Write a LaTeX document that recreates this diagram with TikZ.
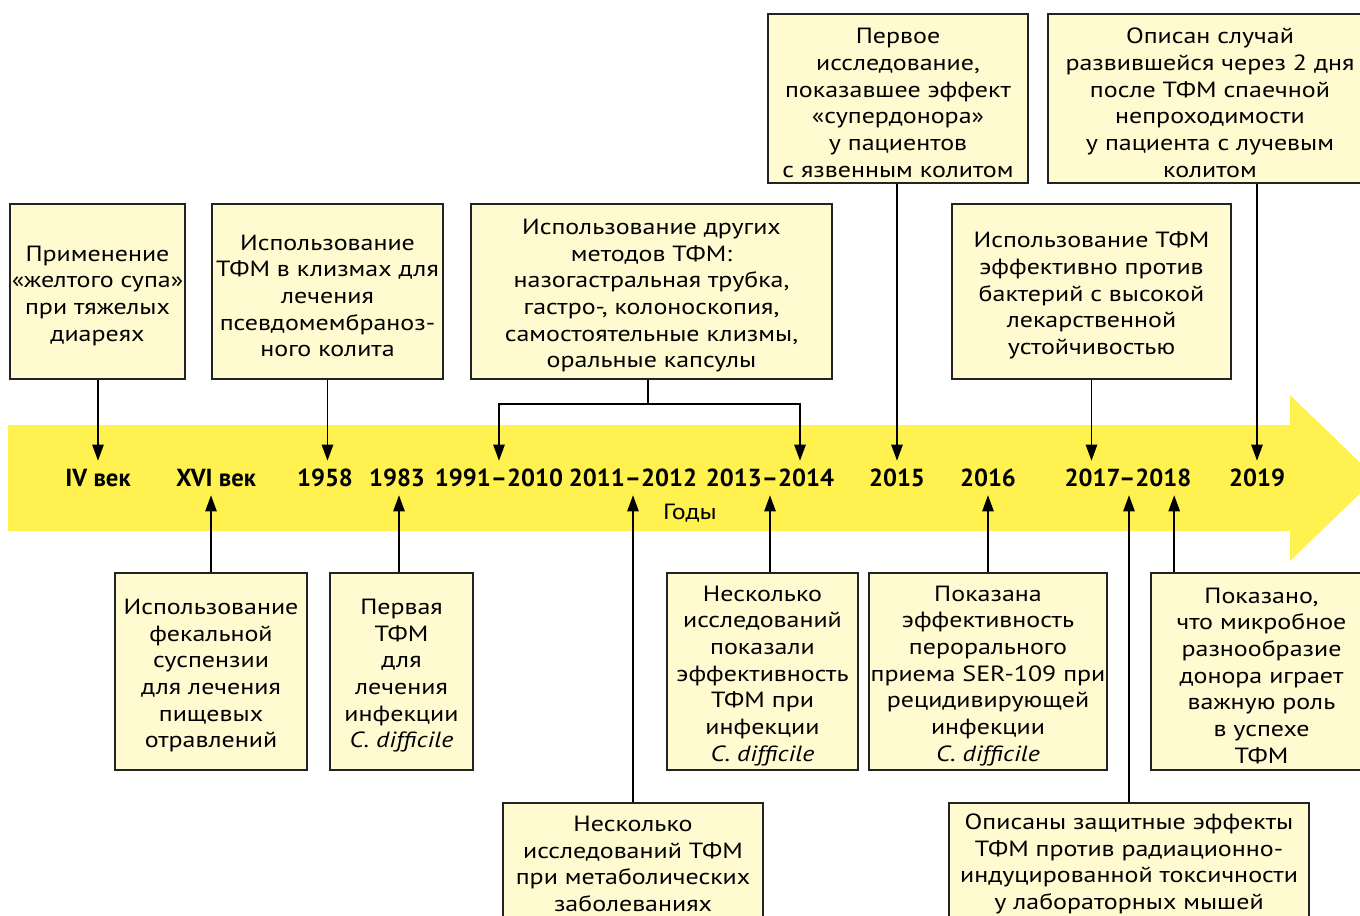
\documentclass[tikz,border=0pt]{standalone}
\usepackage{fontspec}
\setmainfont{PT Sans}[FakeStretch=1.18]
\newfontfamily\yrfont{PT Sans}
\usetikzlibrary{arrows.meta}
\definecolor{band}{RGB}{255,242,80}
\definecolor{boxfill}{RGB}{255,250,208}
\definecolor{boxline}{RGB}{35,35,35}
\newcommand\fl{\rule{0pt}{18pt}}
\begin{document}
\begin{tikzpicture}[x=0.75pt,y=-0.75pt,
  box/.style 2 args={draw=boxline, fill=boxfill, line width=1.2pt, inner sep=0pt,
    minimum width={#1*0.75pt}, minimum height={#2*0.75pt}, align=center,
    font=\fontsize{16.5}{20}\selectfont},
  yr/.style={inner sep=0pt, minimum height={34*0.75pt}, font=\yrfont\fontsize{18.5}{20}\selectfont\bfseries},
  arr/.style={line width=1.1pt, -{Triangle[length=12pt,width=8.5pt]}},
  ln/.style={line width=1.1pt}]
\useasboundingbox (0,0) rectangle (1360,916);
% band arrow
\fill[band] (8,425) -- (1290,425) -- (1290,395) -- (1376,478) -- (1290,561) -- (1290,531) -- (8,531) -- cycle;
% year labels
\node[yr] (y4)    at (98,478)  {IV век};
\node[yr] (y16)   at (216,478) {XVI век};
\node[yr] (y58)   at (325,478) {1958};
\node[yr] (y83)   at (397,478) {1983};
\node[yr] (y9110) at (499,478) {1991–2010};
\node[yr] (y1112) at (633,478) {2011–2012};
\node[yr] (y1314) at (770,478) {2013–2014};
\node[yr] (y15)   at (897,478) {2015};
\node[yr] (y16b)  at (988,478) {2016};
\node[yr] (y1718) at (1128,478) {2017–2018};
\node[yr] (y19)   at (1257,478) {2019};
\node[font=\fontsize{16.5}{20}\selectfont] (gody) at (690,513) {Годы};
% top boxes
\node[box={175}{175}] (t1) at (97.5,291.5) {\fl Применение\\«желтого супа»\\при тяжелых\\диареях};
\node[box={231}{175}] (t2) at (327.5,291.5) {\fl Использование\\ТФМ в клизмах для\\лечения\\псевдомембраноз-\\ного колита};
\node[box={361}{175}] (t3) at (651.5,291.5) {\fl Использование других\\методов ТФМ:\\назогастральная трубка,\\гастро-, колоноскопия,\\самостоятельные клизмы,\\оральные капсулы};
\node[box={260}{169}] (t4) at (898,98.5) {\fl Первое\\исследование,\\показавшее эффект\\«супердонора»\\у пациентов\\с язвенным колитом};
\node[box={324}{169}] (t5) at (1210,98.5) {\fl Описан случай\\развившейся через 2 дня\\после ТФМ спаечной\\непроходимости\\у пациента с лучевым\\колитом};
\node[box={279}{175}] (t6) at (1091.5,291.5) {\fl Использование ТФМ\\эффективно против\\бактерий с высокой\\лекарственной\\устойчивостью};
% bottom boxes
\node[box={192}{197}] (b1) at (211,671.5) {\fl Использование\\фекальной\\суспензии\\для лечения\\пищевых\\отравлений};
\node[box={143}{197}] (b2) at (401.5,671.5) {\fl Первая\\ТФМ\\для\\лечения\\инфекции\\\textit{C. difficile}};
\node[box={191}{197}] (b3) at (762.5,671.5) {\fl Несколько\\исследований\\показали\\эффективность\\ТФМ при\\инфекции\\\textit{C. difficile}};
\node[box={238}{197}] (b4) at (988,671.5) {\fl Показана\\эффективность\\перорального\\приема SER-109 при\\рецидивирующей\\инфекции\\\textit{C. difficile}};
\node[box={221}{197}] (b5) at (1261.5,671.5) {\fl Показано,\\что микробное\\разнообразие\\донора играет\\важную роль\\в успехе\\ТФМ};
\node[box={260}{122}] (b6) at (633,864) {Несколько\\исследований ТФМ\\при метаболических\\заболеваниях};
\node[box={360}{122}] (b7) at (1129,864) {Описаны защитные эффекты\\ТФМ против радиационно-\\индуцированной токсичности\\у лабораторных мышей};
% connectors from above
\draw[arr] (t1.south -| y4) -- (y4.north);
\draw[arr] (t2.south) -- (t2.south |- y58.north);
\draw[arr] (t4.south -| y15) -- (y15.north);
\draw[arr] (t5.south -| y19) -- (y19.north);
\draw[arr] (t6.south) -- (t6.south |- y1718.north);
\coordinate (bl) at (499,404);
\coordinate (br) at (800,404);
\draw[ln] (t3.south -| 648,0) -- (648,404);
\draw[line width=1.1pt, {Triangle[length=12pt,width=8.5pt]}-{Triangle[length=12pt,width=8.5pt]}] (bl |- y9110.north) -- (bl) -- (br) -- (br |- y9110.north);
% connectors from below
\draw[arr] (b1.north) -- (b1.north |- y16.south);
\draw[arr] ([xshift={-2.5*0.75pt}]b2.north) -- ([xshift={-2.5*0.75pt}]b2.north |- y83.south);
\draw[arr] (b6.north -| y1112) -- (y1112.south);
\draw[arr] (b3.north -| y1314) -- (y1314.south);
\draw[arr] (b4.north) -- (b4.north |- y16b.south);
\draw[arr] (b7.north) -- (b7.north |- y1718.south);
\draw[arr] ([xshift={24*0.75pt}]b5.north west) -- ([xshift={24*0.75pt}]b5.north west |- y1718.south);
\end{tikzpicture}
\end{document}
